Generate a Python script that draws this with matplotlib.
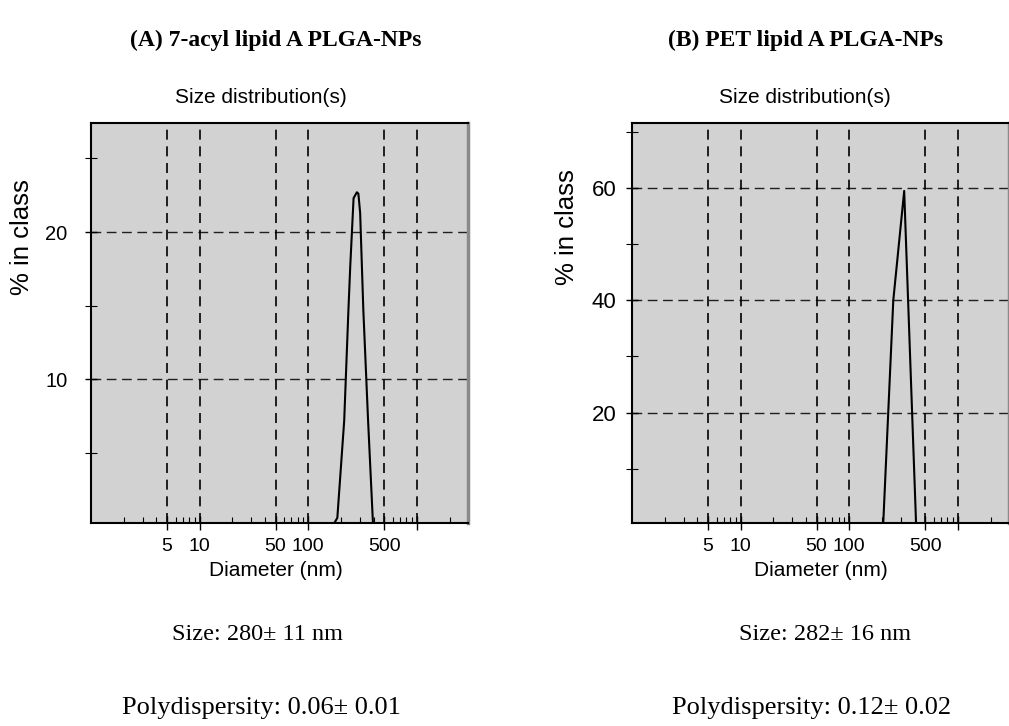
import matplotlib
matplotlib.use("Agg")
import matplotlib.pyplot as plt
from matplotlib.ticker import FixedLocator, NullFormatter, FixedFormatter

# ---- data ----
panel_titles = ["(A) 7-acyl lipid A PLGA-NPs", "(B) PET lipid A PLGA-NPs"]
a_sizes = [30, 166, 185, 214, 234, 243, 261, 280, 289, 300, 321, 355, 395]
a_pct = [0, 0, 0.6, 7.2, 14.7, 17.6, 22.3, 22.7, 22.6, 21.3, 14.7, 7.2, 0]
b_sizes = [30, 205, 254, 320, 412]
b_pct = [0, 0, 40, 59.5, 0]
x_grid = [5, 10, 50, 100, 500, 1000]
x_ticklabels = ["5", "10", "50", "100", "500", ""]
a_yticks = [10, 20]
a_yminor = [5, 15, 25]
b_yticks = [20, 40, 60]
b_yminor = [10, 30, 50, 70]
size_text = ["Size: 280\u00b1 11 nm", "Size: 282\u00b1 16 nm"]
pdi_text = ["Polydispersity: 0.06\u00b1 0.01", "Polydispersity: 0.12\u00b1 0.02"]

W, H = 1009, 726
fig = plt.figure(figsize=(W / 100, H / 100), dpi=100)

sans = ["Liberation Sans", "DejaVu Sans"]
serif = ["Liberation Serif", "DejaVu Serif"]

def px_axes(l, t, r, b):
    return fig.add_axes([l / W, 1 - b / H, (r - l) / W, (b - t) / H])

axA = px_axes(91, 123, 468, 523)
axB = px_axes(632, 123, 1009, 523)

# ax, x, y, ylim, yticks, yminor, ytick pad, ytick size, ylabel (x px offset, frac y), title x frac, xlabel x frac
panels = [
    (axA, a_sizes, a_pct, (0.25, 27.4), a_yticks, a_yminor, 13, 14.5, (-69, 0.715), 0.451, 0.49),
    (axB, b_sizes, b_pct, (0.33, 71.6), b_yticks, b_yminor, 7, 16, (-65, 0.74), 0.459, 0.5),
]

for ax, xs, ys, ylim, yt, ym, ypad, ysz, ylab, tx, xx in panels:
    ax.set_facecolor("#d2d2d2")
    ax.set_xscale("log")
    ax.set_xlim(1, 2950)
    ax.set_ylim(*ylim)
    for g in x_grid:
        ax.axvline(g, color="black", lw=1.2, ls=(0, (6, 4)), zorder=1)
    for g in yt:
        ax.axhline(g, color="black", lw=1.0, ls=(0, (7, 4)), zorder=1, alpha=0.85)
    ax.plot(xs, ys, color="black", lw=1.5, zorder=3)
    ax.xaxis.set_major_locator(FixedLocator(x_grid))
    ax.xaxis.set_major_formatter(FixedFormatter(x_ticklabels))
    ax.xaxis.set_minor_locator(FixedLocator(
        [m * d for d in (1, 10, 100, 1000) for m in range(2, 10) if m * d < 2950]))
    ax.xaxis.set_minor_formatter(NullFormatter())
    ax.tick_params(axis="x", which="major", direction="inout", length=10, width=1,
                   labelsize=14, pad=6)
    ax.tick_params(axis="x", which="minor", direction="in", length=4, width=0.8)
    ax.yaxis.set_major_locator(FixedLocator(yt))
    ax.yaxis.set_minor_locator(FixedLocator(ym))
    ax.tick_params(axis="y", which="major", direction="inout", length=8, width=1,
                   labelsize=ysz, pad=ypad)
    ax.tick_params(axis="y", which="minor", direction="inout", length=8, width=0.8)
    for lab in ax.get_xticklabels() + ax.get_yticklabels():
        lab.set_family(sans)
    ax.text(xx, -0.1185, "Diameter (nm)", transform=ax.transAxes,
            ha="center", va="center", fontsize=15, family=sans)
    ax.text(ylab[0] / 377, ylab[1], "% in class", transform=ax.transAxes,
            ha="center", va="center", rotation=90, fontsize=18.5, family=sans)
    ax.text(tx, 1.04, "Size distribution(s)", transform=ax.transAxes,
            ha="center", va="bottom", fontsize=15, family=sans)
    for s in ["left", "bottom", "top"]:
        ax.spines[s].set_linewidth(1.5)
        ax.spines[s].set_color("black")
    ax.spines["right"].set_linewidth(2.5)
    ax.spines["right"].set_color("#8a8a8a")

# panel titles
fig.text(276 / W, 1 - 40 / H, panel_titles[0], ha="center", va="center",
         fontsize=17, fontweight="bold", family=serif)
fig.text(806 / W, 1 - 40 / H, panel_titles[1], ha="center", va="center",
         fontsize=17, fontweight="bold", family=serif)

# size / polydispersity annotations
fig.text(257 / W, 1 - 635 / H, size_text[0], ha="center", va="center",
         fontsize=17.5, family=serif)
fig.text(825 / W, 1 - 635 / H, size_text[1], ha="center", va="center",
         fontsize=17.5, family=serif)
fig.text(261 / W, 1 - 708 / H, pdi_text[0], ha="center", va="center",
         fontsize=19, family=serif)
fig.text(812 / W, 1 - 708 / H, pdi_text[1], ha="center", va="center",
         fontsize=19, family=serif)

fig.savefig("out.png", dpi=100)
